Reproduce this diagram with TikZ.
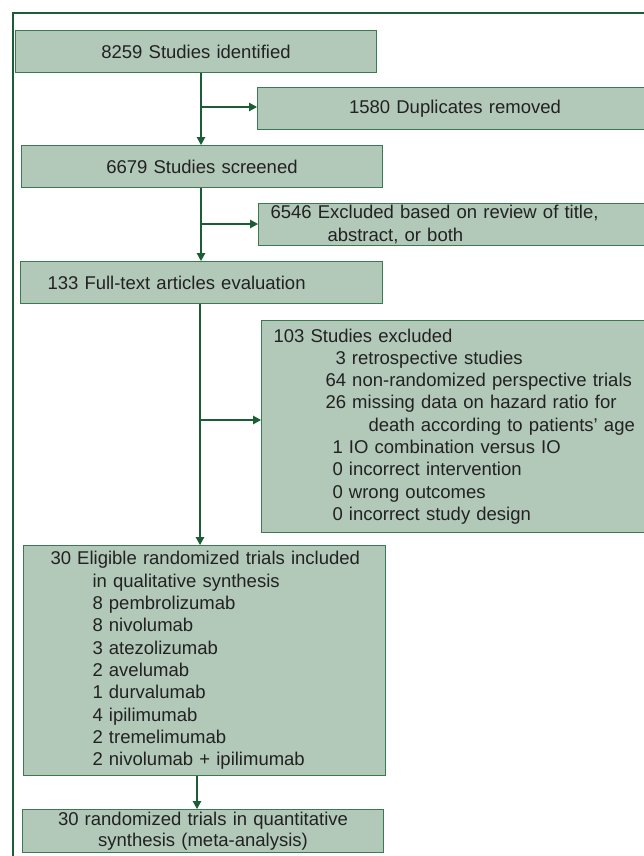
\documentclass[tikz,border=0pt]{standalone}
\usepackage{fontspec}
\setmainfont{Liberation Sans}
\usepackage{xcolor}
\usetikzlibrary{arrows.meta}

\definecolor{framegreen}{HTML}{1B5E36}
\definecolor{boxfill}{HTML}{B2C8B8}
\definecolor{boxline}{HTML}{3A7A50}
\definecolor{textgrey}{HTML}{222222}

\begin{document}
\begin{tikzpicture}[
    x=1pt, y=-1pt, % pixel-like units, y pointing down
    flowbox/.style={draw=boxline, line width=1pt, fill=boxfill, anchor=north west, inner ysep=0pt,
        text=textgrey, font=\fontsize{18.5}{22.3}\selectfont}, % common box look
    centerbox/.style={flowbox, align=center, inner xsep=4pt}, % centred text
    leftbox/.style={flowbox, align=left}, % left aligned text
    flow/.style={draw=framegreen, line width=1.4pt, -{Triangle[length=8pt,width=8.5pt]}} % connector
]
\clip (0,0) rectangle (644,856);
\fill[white] (0,0) rectangle (644,856);
% frame
\draw[framegreen, line width=2.2pt] (650,13) -- (13,13) -- (13,862);

% boxes
\node[centerbox, text width=353pt, minimum height=42pt] (ident) at (15,30) {8259 Studies identified};
\node[centerbox, text width=387pt, minimum height=42pt] (dupl) at (257,87) {1580 Duplicates removed};
\node[centerbox, text width=353pt, minimum height=42pt] (screen) at (21,145) {6679 Studies screened};
\node[leftbox, inner xsep=12pt, text width=371pt, minimum height=42pt] (excl) at (258,203)
    {6546 Excluded based on review of title,\\ \hspace*{57pt}abstract, or both};
\node[leftbox, inner xsep=27pt, text width=308pt, minimum height=42pt] (full) at (20,261)
    {133 Full-text articles evaluation};
\node[leftbox, inner xsep=12pt, text width=368pt, minimum height=212pt] (studexcl) at (261,320) {
    103 Studies excluded\\
    \hspace*{62pt}3 retrospective studies\\
    \hspace*{52pt}64 non-randomized perspective trials\\
    \hspace*{52pt}26 missing data on hazard ratio for\\
    \hspace*{95pt}death according to patients’ age\\
    \hspace*{59pt}1 IO combination versus IO\\
    \hspace*{59pt}0 incorrect intervention\\
    \hspace*{59pt}0 wrong outcomes\\
    \hspace*{59pt}0 incorrect study design
};
\node[leftbox, inner xsep=27pt, text width=308pt, minimum height=230pt] (eligible) at (23,545) {
    \mbox{30 Eligible randomized trials included}\\
    \hspace*{42pt}in qualitative synthesis\\
    \hspace*{42pt}8 pembrolizumab\\
    \hspace*{42pt}8 nivolumab\\
    \hspace*{42pt}3 atezolizumab\\
    \hspace*{42pt}2 avelumab\\
    \hspace*{42pt}1 durvalumab\\
    \hspace*{42pt}4 ipilimumab\\
    \hspace*{42pt}2 tremelimumab\\
    \hspace*{42pt}2 nivolumab + ipilimumab
};
\node[centerbox, text width=353pt, minimum height=43pt, font=\fontsize{18.5}{21}\selectfont] (meta) at (22,809)
    {30 randomized trials in quantitative\\ synthesis (meta-analysis)};

% connectors
\coordinate (br1) at (201,107);
\coordinate (br2) at (201,224);
\coordinate (br3) at (200,420);
\draw[flow] (ident.south -| br1) -- (screen.north -| br1);
\draw[flow] (br1) -- (br1 -| dupl.west);
\draw[flow] (screen.south -| br2) -- (full.north -| br2);
\draw[flow] (br2) -- (br2 -| excl.west);
\draw[flow] (full.south -| br3) -- (eligible.north -| br3);
\draw[flow] (br3) -- (br3 -| studexcl.west);
\draw[flow] (eligible.south -| 197,0) -- (meta.north -| 197,0);
\end{tikzpicture}
\end{document}
